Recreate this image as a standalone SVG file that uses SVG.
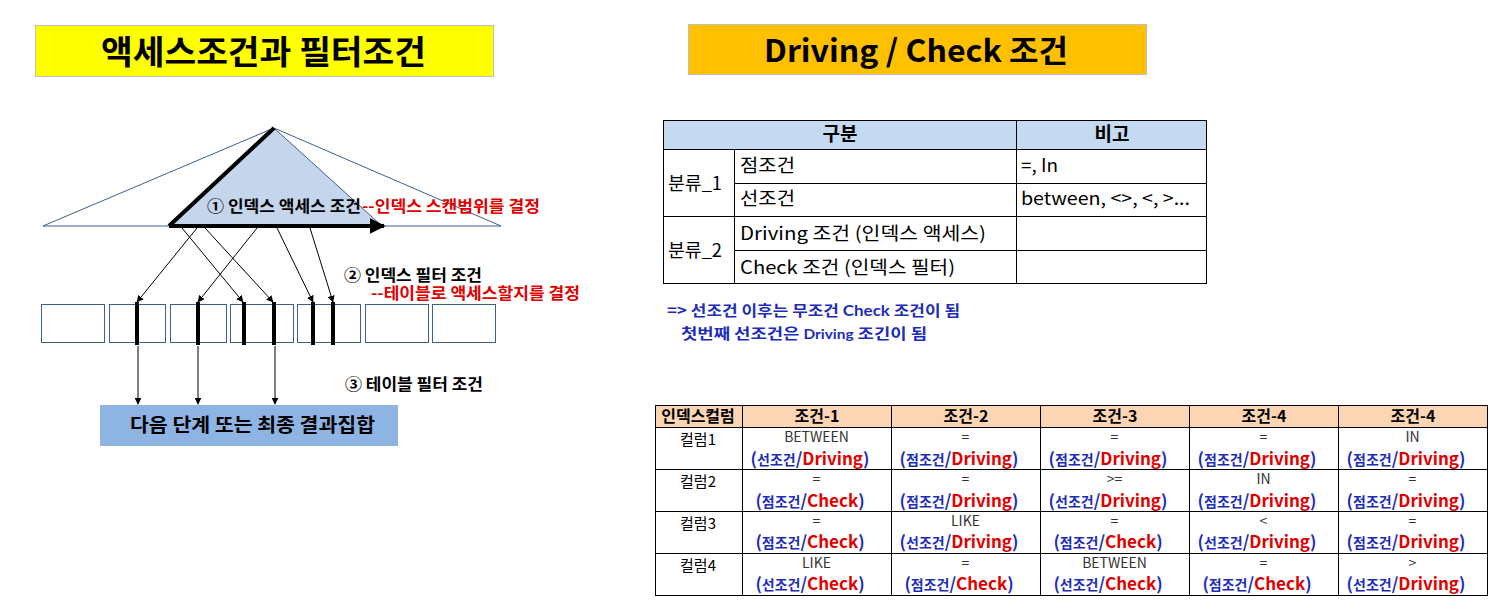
<svg xmlns="http://www.w3.org/2000/svg" width="1498" height="610" viewBox="0 0 1498 610">
<style>
text{font-family:"Noto Sans CJK KR","Noto Sans",sans-serif;}
.lat{font-family:"Lato","Noto Sans CJK KR",sans-serif;}
.b{font-weight:bold;}
.blk{fill:#000;}
.red{fill:#E00000;}
.blu{fill:#1E2DB8;}
.gry{fill:#333;}
.tl{stroke:#000;stroke-width:1;fill:none;}
.box{fill:#fff;stroke:#3E5F8A;stroke-width:1;}
.thin{stroke:#000;stroke-width:1;fill:none;}
.bar{stroke:#000;stroke-width:4;}
</style>
<defs>
<marker id="ah" viewBox="0 0 10 10" refX="9" refY="5" markerWidth="7" markerHeight="7" orient="auto" markerUnits="userSpaceOnUse"><path d="M0,0 L10,5 L0,10 z" fill="#000"/></marker>
<marker id="ahb" viewBox="0 0 10 10" refX="9" refY="5" markerWidth="4" markerHeight="4" orient="auto"><path d="M0,0 L10,5 L0,10 z" fill="#000"/></marker>
</defs>
<rect width="1498" height="610" fill="#fff"/>

<g id="title-left">
<rect x="35.5" y="25.5" width="458" height="51" fill="#FFFF00" stroke="#BFBFBF"/>
<text x="101" y="64" font-size="33" class="b" textLength="325" lengthAdjust="spacingAndGlyphs">액세스조건과 필터조건</text>
</g>
<g id="title-right">
<rect x="688.5" y="24.5" width="458" height="50" fill="#FFC000" stroke="#BFBFBF"/>
<text x="764" y="62" font-size="31" class="b" textLength="304" lengthAdjust="spacingAndGlyphs">Driving / Check 조건</text>
</g>

<g id="index-tree">
<polygon points="274,128 43,226 501,226" fill="#fff" stroke="#3E5F8A" stroke-width="1"/>
<polygon points="274,128 169,226 382,226" fill="#C5D5EC" stroke="#3E5F8A" stroke-width="1"/>
<line x1="169" y1="226" x2="274" y2="128" stroke="#000" stroke-width="4"/>
<line x1="169" y1="226" x2="384" y2="226" stroke="#000" stroke-width="4" marker-end="url(#ahb)"/>
<text x="207" y="212" font-size="16" class="b blk" textLength="154" lengthAdjust="spacingAndGlyphs">① 인덱스 액세스 조건</text>
<text x="362" y="212" font-size="16" class="b red" textLength="178" lengthAdjust="spacingAndGlyphs">--인덱스 스캔범위를 결정</text>
</g>

<g id="table-blocks">
<rect class="box" x="41.5" y="304.5" width="63" height="38"/>
<rect class="box" x="109.5" y="304.5" width="56" height="38"/>
<rect class="box" x="170.5" y="304.5" width="56" height="38"/>
<rect class="box" x="230.5" y="304.5" width="63" height="38"/>
<rect class="box" x="297.5" y="304.5" width="63" height="38"/>
<rect class="box" x="365.5" y="304.5" width="63" height="38"/>
<rect class="box" x="432.5" y="304.5" width="63" height="38"/>
<line class="bar" x1="137" y1="302" x2="137" y2="345"/>
<line class="bar" x1="198" y1="302" x2="198" y2="345"/>
<line class="bar" x1="244" y1="302" x2="244" y2="345"/>
<line class="bar" x1="274" y1="302" x2="274" y2="345"/>
<line class="bar" x1="313" y1="302" x2="313" y2="345"/>
<line class="bar" x1="333" y1="302" x2="333" y2="345"/>
</g>

<g id="labels">
<text x="344" y="281" font-size="16" class="b blk" textLength="138" lengthAdjust="spacingAndGlyphs">② 인덱스 필터 조건</text>
<text x="371" y="299" font-size="16" class="b red" textLength="209" lengthAdjust="spacingAndGlyphs">--테이블로 액세스할지를 결정</text>
<text x="345" y="390" font-size="16" class="b blk" textLength="138" lengthAdjust="spacingAndGlyphs">③ 테이블 필터 조건</text>
</g>

<g id="result">
<rect x="100" y="405" width="298" height="41" fill="#8EB4E3"/>
<text x="130" y="432" font-size="19" class="b" textLength="245" lengthAdjust="spacingAndGlyphs">다음 단계  또는 최종 결과집합</text>
</g>

<g id="connectors">
<line class="thin" x1="197" y1="228" x2="137" y2="302" marker-end="url(#ah)"/>
<line class="thin" x1="257" y1="228" x2="198" y2="302" marker-end="url(#ah)"/>
<line class="thin" x1="182" y1="228" x2="243" y2="302" marker-end="url(#ah)"/>
<line class="thin" x1="205" y1="228" x2="273" y2="302" marker-end="url(#ah)"/>
<line class="thin" x1="277" y1="228" x2="313" y2="302" marker-end="url(#ah)"/>
<line class="thin" x1="310" y1="228" x2="333" y2="302" marker-end="url(#ah)"/>
<line class="thin" x1="138" y1="346" x2="138" y2="404" marker-end="url(#ah)"/>
<line class="thin" x1="198" y1="346" x2="198" y2="404" marker-end="url(#ah)"/>
<line class="thin" x1="275" y1="346" x2="275" y2="404" marker-end="url(#ah)"/>
</g>

<g id="table-top">
<rect x="663.5" y="120.5" width="543" height="29" fill="#C5D9F1"/>
<rect x="663.5" y="120.5" width="543" height="163" class="tl"/>
<line class="tl" x1="663.5" y1="149.5" x2="1206.5" y2="149.5"/>
<line class="tl" x1="734.5" y1="183.5" x2="1206.5" y2="183.5"/>
<line class="tl" x1="663.5" y1="216.5" x2="1206.5" y2="216.5"/>
<line class="tl" x1="734.5" y1="250.5" x2="1206.5" y2="250.5"/>
<line class="tl" x1="734.5" y1="149.5" x2="734.5" y2="283.5"/>
<line class="tl" x1="1016.5" y1="120.5" x2="1016.5" y2="283.5"/>
<text x="840" y="141" font-size="19" class="b" text-anchor="middle">구분</text>
<text x="1112" y="141" font-size="19" class="b" text-anchor="middle">비고</text>
<g font-size="18">
<text x="668" y="190" textLength="54" lengthAdjust="spacingAndGlyphs">분류_1</text>
<text x="668" y="257" textLength="54" lengthAdjust="spacingAndGlyphs">분류_2</text>
<text x="740" y="172" textLength="55" lengthAdjust="spacingAndGlyphs">점조건</text>
<text x="740" y="205" textLength="55" lengthAdjust="spacingAndGlyphs">선조건</text>
<text x="740" y="240" textLength="246" lengthAdjust="spacingAndGlyphs">Driving 조건 (인덱스 액세스)</text>
<text x="740" y="274" textLength="215" lengthAdjust="spacingAndGlyphs">Check 조건 (인덱스 필터)</text>
<text x="1021" y="172" textLength="37" lengthAdjust="spacingAndGlyphs">=, In</text>
<text x="1021" y="205" textLength="169" lengthAdjust="spacingAndGlyphs">between, &lt;&gt;, &lt;, &gt;...</text>
</g>
</g>

<g id="note">
<text x="667" y="316" font-size="15" class="b blu" textLength="293" lengthAdjust="spacingAndGlyphs">=&gt; 선조건 이후는 무조건 <tspan class="lat">Check</tspan> 조건이 됨</text>
<text x="681" y="339" font-size="15" class="b blu" textLength="246" lengthAdjust="spacingAndGlyphs">첫번째 선조건은 <tspan class="lat" font-size="13">Driving</tspan> 조긴이 됨</text>
</g>

<g id="table-bottom">
<rect x="655.5" y="405.5" width="832" height="22" fill="#FCD5B4"/>
<rect x="655.5" y="405.5" width="832" height="190" class="tl"/>
<line class="tl" x1="655.5" y1="427.5" x2="1487.5" y2="427.5"/>
<line class="tl" x1="655.5" y1="469.5" x2="1487.5" y2="469.5"/>
<line class="tl" x1="655.5" y1="511.5" x2="1487.5" y2="511.5"/>
<line class="tl" x1="655.5" y1="553.5" x2="1487.5" y2="553.5"/>
<line class="tl" x1="742.5" y1="405.5" x2="742.5" y2="595.5"/>
<line class="tl" x1="891.5" y1="405.5" x2="891.5" y2="595.5"/>
<line class="tl" x1="1040.5" y1="405.5" x2="1040.5" y2="595.5"/>
<line class="tl" x1="1189.5" y1="405.5" x2="1189.5" y2="595.5"/>
<line class="tl" x1="1338.5" y1="405.5" x2="1338.5" y2="595.5"/>
<g font-size="16" class="b" text-anchor="middle">
<text x="698" y="422">인덱스컬럼</text>
<text x="817" y="422">조건-1</text>
<text x="966" y="422">조건-2</text>
<text x="1115" y="422">조건-3</text>
<text x="1264" y="422">조건-4</text>
<text x="1413" y="422">조건-4</text>
</g>
<g font-size="15" text-anchor="middle">
<text x="698" y="445">컬럼1</text>
<text x="698" y="487">컬럼2</text>
<text x="698" y="529">컬럼3</text>
<text x="698" y="571">컬럼4</text>
</g>
<g font-size="14" class="lat gry" text-anchor="middle">
<text x="816.5" y="442">BETWEEN</text><text x="965.5" y="442">=</text><text x="1114.5" y="442">=</text><text x="1263.5" y="442">=</text><text x="1412.5" y="442">IN</text>
<text x="816.5" y="484">=</text><text x="965.5" y="484">=</text><text x="1114.5" y="484">&gt;=</text><text x="1263.5" y="484">IN</text><text x="1412.5" y="484">=</text>
<text x="816.5" y="526">=</text><text x="965.5" y="526">LIKE</text><text x="1114.5" y="526">=</text><text x="1263.5" y="526">&lt;</text><text x="1412.5" y="526">=</text>
<text x="816.5" y="568">LIKE</text><text x="965.5" y="568">=</text><text x="1114.5" y="568">BETWEEN</text><text x="1263.5" y="568">=</text><text x="1412.5" y="568">&gt;</text>
</g>
<g font-size="17" class="lat b blu" text-anchor="middle">
<text x="810" y="465">(<tspan font-size="14">선조건</tspan>/<tspan class="red">Driving</tspan>)</text>
<text x="959" y="465">(<tspan font-size="14">점조건</tspan>/<tspan class="red">Driving</tspan>)</text>
<text x="1108" y="465">(<tspan font-size="14">점조건</tspan>/<tspan class="red">Driving</tspan>)</text>
<text x="1257" y="465">(<tspan font-size="14">점조건</tspan>/<tspan class="red">Driving</tspan>)</text>
<text x="1406" y="465">(<tspan font-size="14">점조건</tspan>/<tspan class="red">Driving</tspan>)</text>

<text x="810" y="507">(<tspan font-size="14">점조건</tspan>/<tspan class="red">Check</tspan>)</text>
<text x="959" y="507">(<tspan font-size="14">점조건</tspan>/<tspan class="red">Driving</tspan>)</text>
<text x="1108" y="507">(<tspan font-size="14">선조건</tspan>/<tspan class="red">Driving</tspan>)</text>
<text x="1257" y="507">(<tspan font-size="14">점조건</tspan>/<tspan class="red">Driving</tspan>)</text>
<text x="1406" y="507">(<tspan font-size="14">점조건</tspan>/<tspan class="red">Driving</tspan>)</text>

<text x="810" y="548">(<tspan font-size="14">점조건</tspan>/<tspan class="red">Check</tspan>)</text>
<text x="959" y="548">(<tspan font-size="14">선조건</tspan>/<tspan class="red">Driving</tspan>)</text>
<text x="1108" y="548">(<tspan font-size="14">점조건</tspan>/<tspan class="red">Check</tspan>)</text>
<text x="1257" y="548">(<tspan font-size="14">선조건</tspan>/<tspan class="red">Driving</tspan>)</text>
<text x="1406" y="548">(<tspan font-size="14">점조건</tspan>/<tspan class="red">Driving</tspan>)</text>

<text x="810" y="590">(<tspan font-size="14">선조건</tspan>/<tspan class="red">Check</tspan>)</text>
<text x="959" y="590">(<tspan font-size="14">점조건</tspan>/<tspan class="red">Check</tspan>)</text>
<text x="1108" y="590">(<tspan font-size="14">선조건</tspan>/<tspan class="red">Check</tspan>)</text>
<text x="1257" y="590">(<tspan font-size="14">점조건</tspan>/<tspan class="red">Check</tspan>)</text>
<text x="1406" y="590">(<tspan font-size="14">선조건</tspan>/<tspan class="red">Driving</tspan>)</text>
</g>
</g>
</svg>
